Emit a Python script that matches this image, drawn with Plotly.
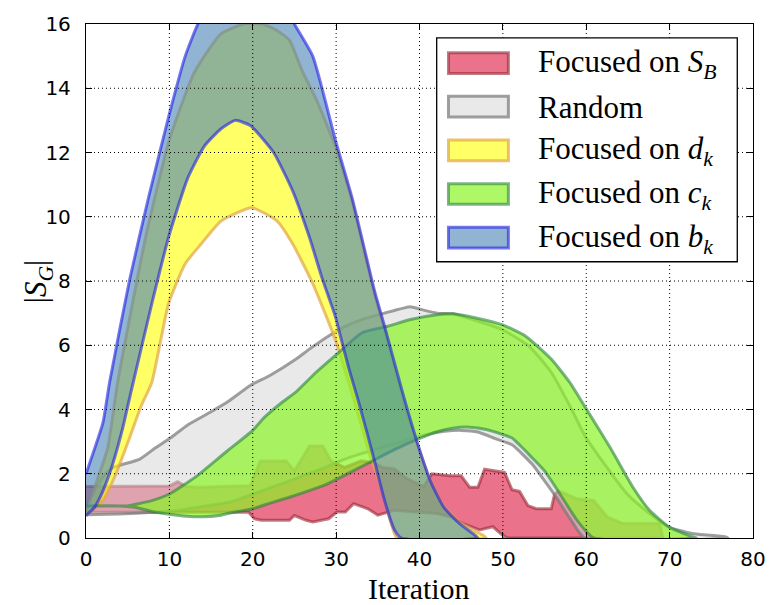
import plotly.graph_objects as go

# ---------------- data ----------------
# Focused on S_B (red band)
sb_up_x = [0, 9, 10, 11, 12, 13.4, 19.7, 20.9, 24, 25, 26.8, 28.4, 29.4, 31, 33, 34.5, 35.5, 37, 38.5,
           40.5, 41.5, 43.7, 45, 46, 47, 47.8, 49.2, 50.2, 51.1, 52, 53, 54, 55.8, 56.2, 56.7, 58.9,
           60.9, 62.5, 64.4, 68.8, 69.2]
sb_up_y = [1.6, 1.6, 1.62, 1.75, 1.6, 1.58, 1.63, 2.4, 2.4, 2.09, 2.86, 2.86, 2.4, 2.2, 2.4, 2.35, 2.2,
           2.15, 1.85, 1.6, 2.0, 1.94, 1.94, 1.58, 1.58, 2.14, 2.09, 2.04, 1.5, 1.45, 1.01, 0.91, 0.91,
           1.37, 1.47, 1.22, 1.17, 0.66, 0.45, 0.45, 0]
sb_lo_x = [0, 19.5, 20.2, 21, 24.4, 25, 26.4, 27.2, 29.1, 30.1, 31.1, 32.1, 33.8, 35, 37, 39.7, 42.1,
           43.7, 45.2, 47.2, 48.8, 49.9, 50.5, 69.2]
sb_lo_y = [0.8, 0.8, 0.6, 0.55, 0.55, 0.7, 0.55, 0.5, 0.6, 0.81, 0.81, 1.07, 0.91, 0.71, 0.86, 0.81,
           0.76, 0.66, 0.45, 0.25, 0.35, 0.1, 0, 0]

# Random (gray band)
rnd_up_x = [0, 1, 2, 3.2, 6.4, 8.3, 10.1, 12.2, 15, 17, 19.7, 22, 25.2, 26.8, 29.1, 31.1, 33.1, 35.8,
            38.9, 40.1, 42.1, 44, 46.4, 49.9, 53.1, 55.8, 58.2, 59.8, 62.5, 64.9, 67.6, 69.8, 72.7,
            76.6, 77]
rnd_up_y = [1.0, 1.45, 1.9, 2.19, 2.45, 2.8, 3.11, 3.52, 3.93, 4.24, 4.75, 5.05, 5.57, 5.88, 6.29,
            6.59, 6.8, 7.0, 7.2, 7.12, 7.0, 6.98, 6.8, 6.49, 5.98, 5.16, 4.03, 3.2, 2.19, 1.37, 0.76,
            0.35, 0.14, 0.04, 0]
rnd_lo_x = [0, 4, 8, 11, 13.4, 17.3, 20, 24.4, 28.7, 31, 34.6, 38.6, 40.5, 43, 45, 47, 49, 51.1, 53.5,
            55, 56.4, 58.2, 59.8]
rnd_lo_y = [0.72, 0.75, 0.8, 0.86, 0.96, 1.12, 1.37, 1.78, 2.2, 2.45, 2.75, 3.05, 3.2, 3.32, 3.35,
            3.3, 3.1, 2.9, 2.3, 1.78, 1.27, 0.55, 0]

# Focused on d_k (yellow band)
dk_up_x = [0, 1.45, 2.6, 3.8, 7.15, 10, 13, 16.2, 18.9, 21.2, 22.9, 24.4, 26, 27.6, 29.9, 31.9, 34.6,
           35.8, 38.2, 39.7, 41.3, 42.9, 44.8, 46.4, 47.5, 48]
dk_up_y = [0.8, 1.88, 2.8, 4.85, 9.36, 12.4, 14.5, 15.7, 16.0, 16.0, 15.8, 15.5, 14.5, 13.66, 12.2,
           10.5, 7.6, 6.5, 4.15, 2.95, 1.8, 1.0, 0.5, 0.25, 0.1, 0]
dk_lo_x = [0, 2.04, 3.6, 5.2, 6.6, 7.9, 9.9, 11.9, 13.8, 16.2, 19.9, 22.9, 24.8, 27.2, 29.9, 32.2,
           34.2, 35, 36.6, 37.3]
dk_lo_y = [0.7, 1.17, 2.0, 3.1, 4.1, 4.85, 7.3, 8.54, 9.15, 9.87, 10.28, 9.87, 9.15, 7.92, 6.18,
           4.25, 2.45, 1.88, 0.45, 0]

# Focused on c_k (green band)
ck_up_x = [0, 5, 6, 8, 10, 12, 13.4, 16.9, 20, 21.3, 23.6, 25.2, 27.6, 30.3, 33.1, 36.2, 38.9, 42.1,
           44, 46.8, 49.9, 52.7, 55.8, 58, 60, 62.9, 65.6, 67.6, 69.9, 72.7, 73.2]
ck_up_y = [1.0, 1.0, 1.05, 1.17, 1.37, 1.7, 1.95, 2.7, 3.35, 3.73, 4.24, 4.55, 5.16, 5.77, 6.39, 6.59,
           6.8, 6.95, 6.98, 6.85, 6.64, 6.29, 5.57, 4.85, 4.02, 2.8, 1.58, 0.86, 0.35, 0.04, 0]
ck_lo_x = [0, 4, 6, 8, 10, 12, 14, 16, 17.3, 20, 22, 24.4, 26.5, 28.7, 31, 34, 37, 40, 42, 44, 46,
           48, 50, 51.1, 53.5, 55, 56.6, 58.9, 60.9]
ck_lo_y = [1.0, 1.0, 0.95, 0.82, 0.74, 0.68, 0.66, 0.7, 0.78, 0.91, 1.08, 1.27, 1.45, 1.65, 1.95,
           2.35, 2.75, 3.1, 3.3, 3.42, 3.45, 3.38, 3.22, 3.11, 2.5, 2.09, 1.47, 0.55, 0]

# Focused on b_k (blue band)
bk_up_x = [0, 1.06, 2.04, 2.83, 5.2, 7.5, 9.9, 11.9, 13.6, 16, 18, 20, 22, 24, 25, 27.2, 29.9, 31.9,
           34.6, 35.8, 38, 39.7, 41.3, 42.9, 44.8, 46.4, 47]
bk_up_y = [2.0, 2.8, 3.6, 4.85, 8.0, 10.6, 13.1, 15.0, 16.1, 17.0, 17.5, 17.6, 17.3, 16.6, 16.0, 15.0,
           12.4, 10.6, 7.7, 6.6, 4.5, 3.0, 1.78, 0.96, 0.45, 0.14, 0]
bk_lo_x = [0, 1, 2.04, 3.2, 4.4, 5.4, 7.9, 9.9, 12.2, 14.2, 16.2, 17.9, 19.7, 22.5, 24.8, 26.8, 28.3,
           29.9, 30.7, 31.5, 32.7, 34.6, 35.8, 37, 37.8]
bk_lo_y = [0.7, 0.95, 1.47, 2.3, 3.42, 4.55, 7.3, 9.36, 11.2, 12.2, 12.74, 13.0, 12.84, 12.0, 10.8,
           9.36, 8.1, 6.9, 6.1, 5.3, 4.24, 2.4, 1.17, 0.25, 0]

series_names = ["Focused on <i>S</i><sub><i>B</i></sub>", "Random",
                "Focused on <i>d</i><sub><i>k</i></sub>", "Focused on <i>c</i><sub><i>k</i></sub>",
                "Focused on <i>b</i><sub><i>k</i></sub>"]
x_ticks = [0, 10, 20, 30, 40, 50, 60, 70, 80]
y_ticks = [0, 2, 4, 6, 8, 10, 12, 14, 16]

# ---------------- styles ----------------
fill_colors = ["rgba(220,20,60,0.6)", "rgba(211,211,211,0.5)", "rgba(255,255,0,0.6)",
               "rgba(140,243,37,0.7)", "rgba(70,130,180,0.6)"]
edge_colors = ["rgba(150,40,50,0.6)", "rgba(120,120,120,0.7)", "rgba(225,165,70,0.7)",
               "rgba(40,130,60,0.6)", "rgba(30,30,230,0.6)"]
line_shapes = ["linear", "spline", "spline", "spline", "spline"]

bands = [
    (sb_up_x, sb_up_y, sb_lo_x, sb_lo_y),
    (rnd_up_x, rnd_up_y, rnd_lo_x, rnd_lo_y),
    (dk_up_x, dk_up_y, dk_lo_x, dk_lo_y),
    (ck_up_x, ck_up_y, ck_lo_x, ck_lo_y),
    (bk_up_x, bk_up_y, bk_lo_x, bk_lo_y),
]

fig = go.Figure()
for (ux, uy, lx, ly), name, fc, ec, shp in zip(bands, series_names, fill_colors, edge_colors,
                                               line_shapes):
    fig.add_trace(go.Scatter(
        x=list(ux) + list(lx)[::-1],
        y=list(uy) + list(ly)[::-1],
        mode="lines", fill="toself", fillcolor=fc,
        line=dict(color=ec, width=3, shape=shp, smoothing=0.5),
        name=name, showlegend=False, hoverinfo="skip"))

# ---------------- layout ----------------
W, H = 778, 605
ML, MR, MT, MB = 86, 13, 17, 67
pw, ph = W - ML - MR, H - MT - MB

def px_x(p):
    return (p - ML) / pw

def px_y(p):
    return (H - MB - p) / ph

shapes = []
for xv in x_ticks[1:-1]:
    shapes.append(dict(type="line", xref="x", yref="paper", x0=xv, x1=xv, y0=0, y1=1,
                       line=dict(color="black", width=1, dash="1px,3px"), layer="above"))
for yv in y_ticks[1:-1]:
    shapes.append(dict(type="line", xref="paper", yref="y", x0=0, x1=1, y0=yv, y1=yv,
                       line=dict(color="black", width=1, dash="1px,3px"), layer="above"))

# legend box
shapes.append(dict(type="rect", xref="paper", yref="paper",
                   x0=px_x(443), x1=px_x(749), y0=px_y(258), y1=px_y(31),
                   fillcolor="white", line=dict(color="black", width=1.3), layer="above"))
annotations = []
centers = [56.7, 100.8, 145, 189.3, 233.5]
for name, fc, ec, cy in zip(series_names, fill_colors, edge_colors, centers):
    shapes.append(dict(type="rect", xref="paper", yref="paper",
                       x0=px_x(455), x1=px_x(516), y0=px_y(cy + 10.5), y1=px_y(cy - 10.5),
                       fillcolor=fc, line=dict(color=ec, width=3), layer="above"))
    annotations.append(dict(xref="paper", yref="paper", x=px_x(544), y=px_y(cy + 1),
                            text=name, showarrow=False, xanchor="left", yanchor="middle",
                            font=dict(family="Liberation Serif", size=31, color="black")))

annotations.append(dict(xref="paper", yref="paper", x=px_x(425), y=px_y(589),
                        text="Iteration", showarrow=False, xanchor="center", yanchor="middle",
                        borderpad=0,
                        font=dict(family="Liberation Serif", size=30, color="black")))
annotations.append(dict(xref="paper", yref="paper", x=px_x(38), y=px_y(278),
                        text="|<i>S</i><sub><i>G</i></sub>|", showarrow=False, textangle=-90,
                        xanchor="center", yanchor="middle",
                        font=dict(family="Liberation Serif", size=31, color="black")))

axis_common = dict(showline=True, linecolor="black", linewidth=1.3, mirror="ticks",
                   ticks="inside", ticklen=6, tickwidth=1, tickcolor="black",
                   showgrid=False, zeroline=False,
                   tickfont=dict(family="DejaVu Sans", size=20, color="black"))

fig.update_layout(
    width=W, height=H, margin=dict(l=ML, r=MR, t=MT, b=MB),
    paper_bgcolor="white", plot_bgcolor="white",
    xaxis=dict(range=[0, 80], tickvals=x_ticks, ticklabelstandoff=3, **axis_common),
    yaxis=dict(range=[0, 16], tickvals=y_ticks, ticklabelstandoff=10, **axis_common),
    shapes=shapes, annotations=annotations, showlegend=False,
)

fig.write_html("out.html")
